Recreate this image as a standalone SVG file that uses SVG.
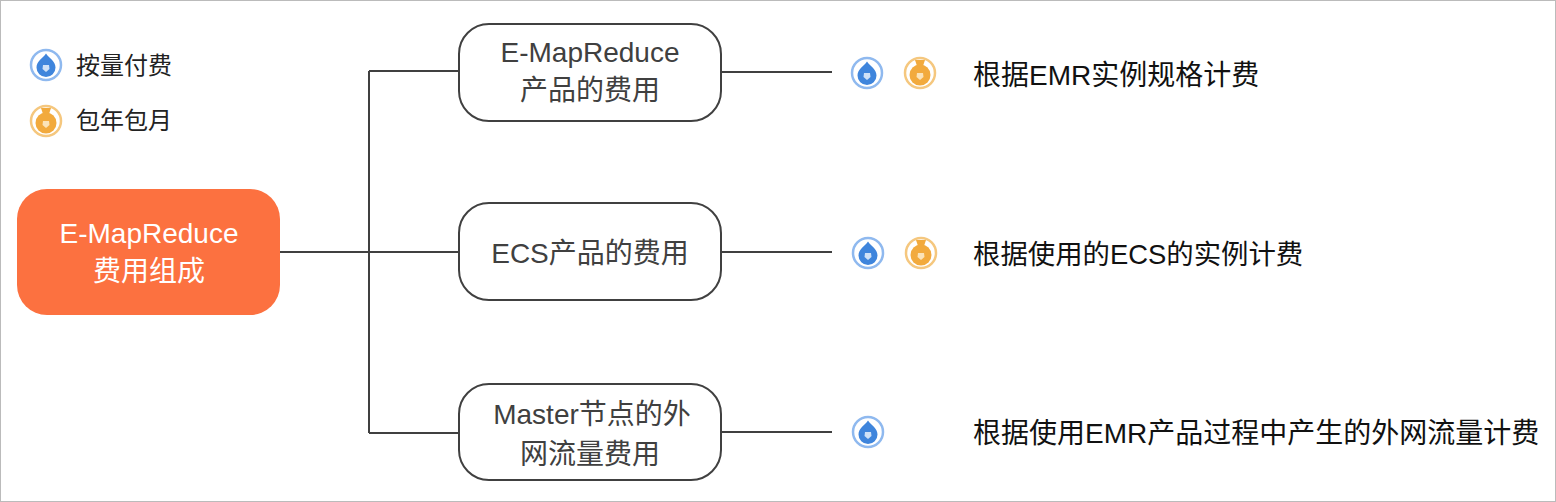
<svg xmlns="http://www.w3.org/2000/svg" width="1556" height="502" viewBox="0 0 1556 502">
<style>
text{font-family:"Liberation Sans","Noto Sans CJK SC",sans-serif}
.n{fill:#fff;stroke:#404040;stroke-width:2}
.l{font-size:28px;fill:#404040;text-anchor:middle}
.w{font-size:28px;fill:#fff;text-anchor:middle}
.d{font-size:28px;fill:#111}
.k{font-size:24px;fill:#222}
.c{fill:none;stroke:#404040;stroke-width:2}
</style>
<defs>
<g id="blue"><circle r="15" fill="#fff" stroke="#8fb9ef" stroke-width="2.500"/><path d="M0-11.500C3-7 9.500-4 9.500 2.500A9.500 9.500 0 0 1-9.500 2.500C-9.500-4-3-7 0-11.500Z" fill="#3f85dc"/><path d="M-3 0H3L3.500 4L0 7L-3.500 4Z" fill="#cfe1f7"/></g>
<g id="gold"><circle r="15" fill="#fff" stroke="#f5c77e" stroke-width="2.500"/><circle cy="2" r="10.500" fill="#f2aa3d"/><path d="M-5-13H5L3-7H-3Z" fill="#f2aa3d"/><path d="M-3 0H3L3.500 4L0 7L-3.500 4Z" fill="#fbe3b8"/></g>
</defs>
<rect x="0.500" y="0.500" width="1555" height="501" fill="#fff" stroke="#bbb"/>
<g id="connectors">
<path class="c" d="M279 252H458M369 71V433M369 71H458M369 433H458M721 72H832M721 252H832M721 432H832"/>
</g>
<g id="legend"><use href="#blue" x="46" y="65"/><text class="k" x="76" y="74">按量付费</text><use href="#gold" x="46" y="121"/><text class="k" x="76" y="129">包年包月</text></g>
<g id="root"><rect x="17" y="189" width="263" height="126" rx="30" fill="#fc7140"/><text class="w" x="149" y="243">E-MapReduce</text><text class="w" x="149" y="281">费用组成</text></g>
<g id="emr"><rect class="n" x="459" y="24" width="262" height="97" rx="30"/><text class="l" x="590" y="62">E-MapReduce</text><text class="l" x="590" y="100">产品的费用</text></g>
<g id="ecs"><rect class="n" x="459" y="203" width="262" height="97" rx="30"/><text class="l" x="590" y="263">ECS产品的费用</text></g>
<g id="master"><rect class="n" x="459" y="384" width="262" height="96" rx="30"/><text class="l" x="592" y="424">Master节点的外</text><text class="l" x="590" y="464">网流量费用</text></g>
<g id="emr-detail"><use href="#blue" x="867" y="73"/><use href="#gold" x="920" y="73"/><text class="d" x="973" y="85">根据EMR实例规格计费</text></g>
<g id="ecs-detail"><use href="#blue" x="868" y="253"/><use href="#gold" x="921" y="253"/><text class="d" x="973" y="264" style="font-size:27.400px">根据使用的ECS的实例计费</text></g>
<g id="master-detail"><use href="#blue" x="868" y="432"/><text class="d" x="973" y="443">根据使用EMR产品过程中产生的外网流量计费</text></g>
</svg>
